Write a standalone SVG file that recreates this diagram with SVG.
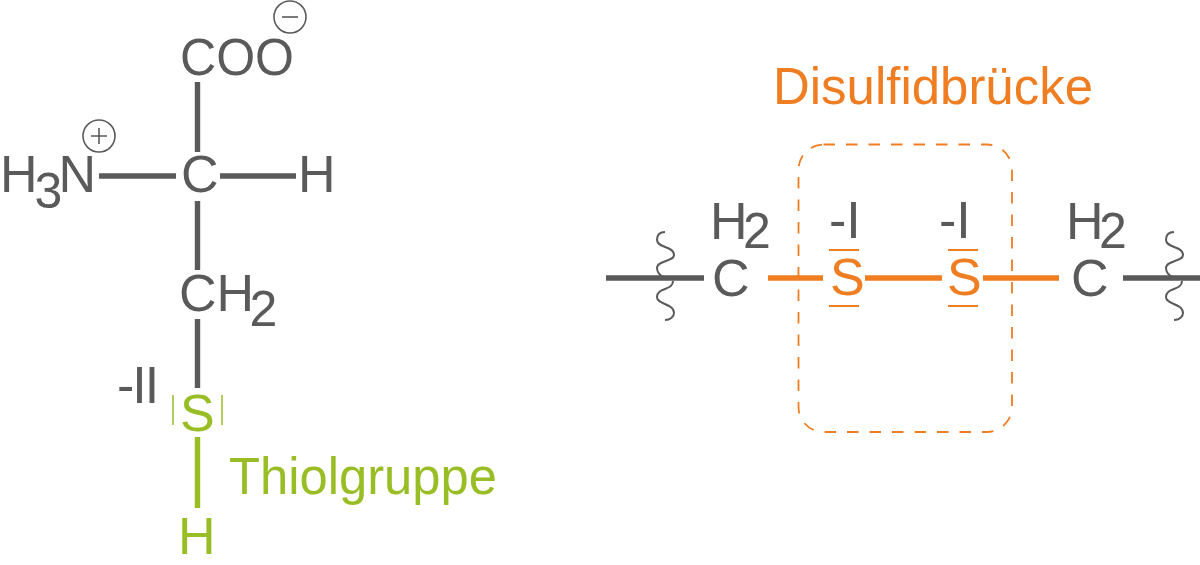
<svg xmlns="http://www.w3.org/2000/svg" width="1200" height="565" viewBox="0 0 1200 565">
<style>
text{font-family:"Liberation Sans",Arial,sans-serif;font-size:52px}
.sub{font-size:50px}
.g{fill:#5a5a5a}.l{fill:#98bd25}.o{fill:#ef7d22}
.bg{stroke:#5a5a5a;stroke-width:5.4;fill:none}
.bl{stroke:#98bd25;stroke-width:5.4;fill:none}
.bo{stroke:#ef7d22;stroke-width:5.4;fill:none}
.th{stroke:#5a5a5a;stroke-width:1.6;fill:none}
.w{stroke:#5a5a5a;stroke-width:2;fill:none}
.tl{stroke:#98bd25;stroke-width:1.5;fill:none}
.to{stroke:#ef7d22;stroke-width:2;fill:none}
</style>
<defs><path id="wig" class="w" d="M665 232C659 232 657 236 657 240C657 248 674 246 674 255C674 262 657 260 657 268C657 272 660 276 664 277M673 281C673 291 657 287 657 297C657 305 674 303 674 313C674 317 670 320 665 320"/></defs>
<rect width="1200" height="565" fill="#fff"/>
<g id="connectors">
<path class="bg" d="M197.5 82V152M197.5 201V270M99 176H176M220 176H296M197.5 319V388"/>
<path class="bl" d="M197.5 437V508"/>
<path class="bg" d="M606 278H704M1123 278H1200"/>
<path class="bo" d="M768 278H823M865 278H942M983 278H1059"/>
</g>
<g id="coo"><text class="g" x="180" y="75" textLength="114" lengthAdjust="spacingAndGlyphs">COO</text>
<circle class="th" cx="290" cy="17" r="16"/><path class="th" d="M282 17H298"/></g>
<g id="nh3"><text class="g" x="0" y="192">H<tspan class="sub" dy="16" dx="-3">3</tspan><tspan dy="-16" dx="-4">N</tspan></text>
<circle class="th" cx="99" cy="136" r="16"/><path class="th" d="M91 136H107M99 128V144"/></g>
<g id="c-alpha"><text class="g" x="181" y="192">C</text></g>
<g id="h-right"><text class="g" x="298" y="192">H</text></g>
<g id="ch2"><text class="g" x="179" y="311">CH<tspan class="sub" dy="15" dx="-4.5">2</tspan></text></g>
<g id="sulfur"><text class="g" x="117" y="403" letter-spacing="-2">-II</text><text class="l" x="180" y="431">S</text>
<path class="tl" d="M173 395V425M222 395V425"/></g>
<g id="thiol-h"><text class="l" x="178" y="554">H</text></g>
<g id="thiol-label"><text class="l" x="229" y="494" textLength="268" lengthAdjust="spacingAndGlyphs">Thiolgruppe</text></g>
<g id="disulfide-label"><text class="o" x="773" y="103.5" textLength="320" lengthAdjust="spacingAndGlyphs">Disulfidbrücke</text>
<rect x="798.5" y="144.5" width="213.5" height="287.5" rx="25" fill="none" stroke="#ef7d22" stroke-width="1.8" stroke-dasharray="11.5 11"/></g>
<g id="left-chain"><use href="#wig"/>
<text class="g" x="712" y="296">C</text><text class="g" x="710" y="239">H<tspan class="sub" dy="9" dx="-4.5">2</tspan></text></g>
<g id="s1"><text class="g" x="829" y="238">-I</text><text class="o" x="830" y="295">S</text><path class="to" d="M829 250H859M829 306H859"/></g>
<g id="s2"><text class="g" x="939" y="238">-I</text><text class="o" x="947" y="295">S</text><path class="to" d="M948 250H978M948 306H978"/></g>
<g id="right-chain"><use href="#wig" x="509"/>
<text class="g" x="1071" y="296">C</text><text class="g" x="1066" y="239">H<tspan class="sub" dy="9" dx="-4.5">2</tspan></text></g>
</svg>
